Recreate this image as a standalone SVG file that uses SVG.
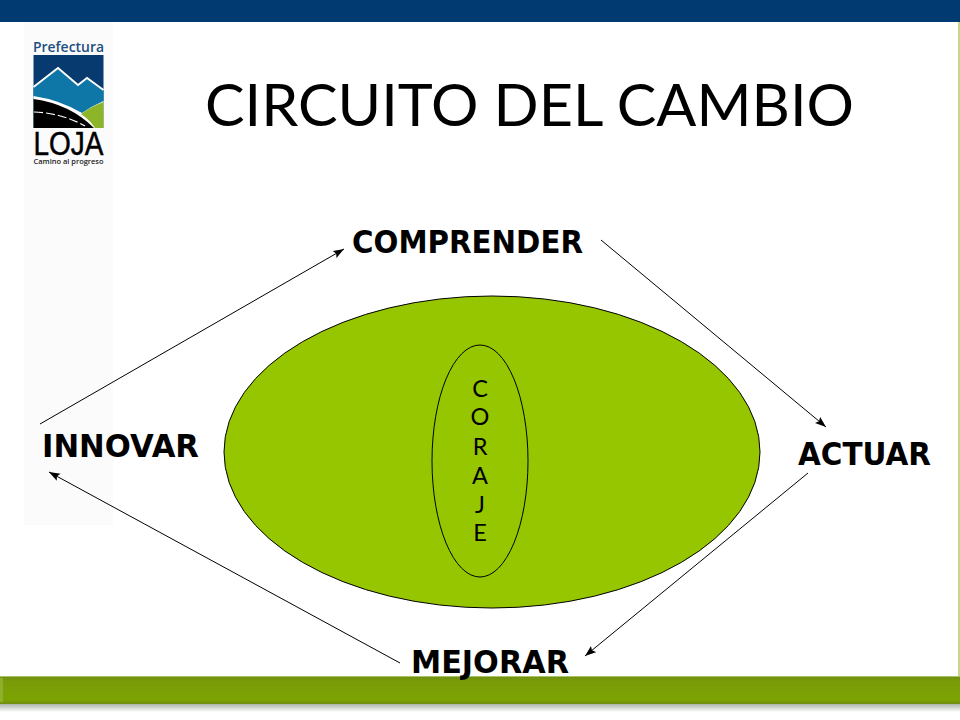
<svg xmlns="http://www.w3.org/2000/svg" width="960" height="720" viewBox="0 0 960 720">
<defs>
<marker id="ah" markerWidth="12" markerHeight="9" refX="11" refY="4" orient="auto" markerUnits="userSpaceOnUse"><path d="M0 0L11 4L0 8L2 4Z" fill="#000"/></marker>
<linearGradient id="bar" x1="0" y1="0" x2="0" y2="1"><stop offset="0" stop-color="#6f8f10"/><stop offset="0.2" stop-color="#7a9c08"/><stop offset="0.85" stop-color="#7ba302"/><stop offset="1" stop-color="#6f8c10"/></linearGradient>
<linearGradient id="shadow" x1="0" y1="0" x2="0" y2="1"><stop offset="0" stop-color="#aab4aa"/><stop offset="1" stop-color="#fff"/></linearGradient>
</defs>
<style>
.lbl{font-family:"DejaVu Sans",sans-serif;font-weight:bold;font-size:31.5px;fill:#000}
.gothic{font-family:"Lato","Liberation Sans",sans-serif;fill:#000;font-weight:400}
.cor{font-size:23.5px;text-anchor:middle}
.conn{stroke:#000;stroke-width:1;fill:none;marker-end:url(#ah)}
</style>
<rect width="960" height="720" fill="#fff"/>
<rect x="24" y="22" width="89" height="503" fill="#fbfbfc"/>
<rect x="0" y="0" width="960" height="22" fill="#003a70"/>
<rect x="958" y="22" width="2" height="656" fill="#c9d68a"/>
<g id="footer">
<rect x="0" y="704" width="960" height="8" fill="url(#shadow)"/>
<rect x="0" y="676" width="960" height="28" fill="url(#bar)"/>
<rect x="0" y="676" width="960" height="1" fill="#a9c26a"/>
<rect x="0" y="678" width="3" height="24" fill="#8fae2a"/>
</g>
<g id="logo">
<text x="68.500" y="52" text-anchor="middle" font-family="'Open Sans','Liberation Sans',sans-serif" font-weight="600" font-size="14" fill="#1e4f80" textLength="71" lengthAdjust="spacingAndGlyphs">Prefectura</text>
<rect x="33.500" y="55" width="70" height="73" fill="#073a6e"/>
<path d="M33.500 87L58 68L78 85L87 78L103.500 90V128H33.500Z" fill="#0f76a8"/>
<path d="M33.500 87L58 68L78 85L87 78L103.500 90" fill="none" stroke="#fff" stroke-width="1.800"/>
<path d="M33.500 96Q60 100 82 113Q92 106 103.500 101V128H33.500Z" fill="#fff"/>
<path d="M81 114Q92 106 103.500 102V128H95Q90 120 81 114Z" fill="#8cb52a"/>
<path d="M33.500 99Q70 104 94 128H33.500Z" fill="#000"/>
<path d="M34 112Q62 113 85 126" fill="none" stroke="#fff" stroke-width="1.200" stroke-dasharray="9 3"/>
<text x="68.500" y="154.500" text-anchor="middle" font-family="'Liberation Sans',sans-serif" font-size="34" fill="#000" stroke="#000" stroke-width="0.500" textLength="70" lengthAdjust="spacingAndGlyphs">LOJA</text>
<text x="68.500" y="163.500" text-anchor="middle" font-family="'Open Sans','Liberation Sans',sans-serif" font-weight="600" font-size="7.500" fill="#222" textLength="70" lengthAdjust="spacingAndGlyphs">Camino al progreso</text>
</g>
<text id="title" class="gothic" x="205" y="126" font-size="59" textLength="649" lengthAdjust="spacingAndGlyphs">CIRCUITO DEL CAMBIO</text>
<g id="outer"><ellipse cx="492" cy="452" rx="268" ry="156" fill="#95c600" stroke="#000" stroke-width="1"/></g>
<g id="coraje">
<ellipse cx="480" cy="461" rx="48" ry="116" fill="#95c600" stroke="#000" stroke-width="1"/>
<g class="gothic cor">
<text x="480" y="397">C</text><text x="480" y="425">O</text><text x="480" y="455">R</text><text x="480" y="484">A</text><text x="480" y="513">J</text><text x="480" y="541">E</text>
</g>
</g>
<g id="comprender"><text class="lbl" x="352" y="253" textLength="231" lengthAdjust="spacingAndGlyphs">COMPRENDER</text></g>
<g id="actuar"><text class="lbl" x="798" y="465" textLength="133" lengthAdjust="spacingAndGlyphs">ACTUAR</text></g>
<g id="mejorar"><text class="lbl" x="411" y="673" textLength="158" lengthAdjust="spacingAndGlyphs">MEJORAR</text></g>
<g id="innovar"><text class="lbl" x="42" y="457" textLength="157" lengthAdjust="spacingAndGlyphs">INNOVAR</text></g>
<g id="connectors">
<line class="conn" x1="40" y1="424" x2="344" y2="249"/>
<line class="conn" x1="601" y1="240" x2="826" y2="427"/>
<line class="conn" x1="808" y1="473" x2="585" y2="656"/>
<line class="conn" x1="400" y1="663" x2="49" y2="472"/>
</g>
</svg>
